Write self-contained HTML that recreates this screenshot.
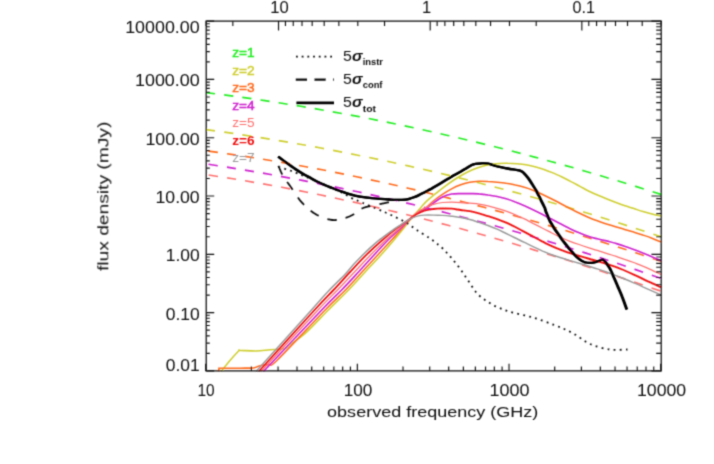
<!DOCTYPE html>
<html><head><meta charset="utf-8"><title>flux density</title>
<style>
html,body{margin:0;padding:0;background:#fff;}
body{width:714px;height:464px;overflow:hidden;position:relative;font-family:"Liberation Sans",sans-serif;}
svg{display:block;}
</style></head><body>
<svg width="714" height="464" viewBox="0 0 714 464" style="position:absolute;left:0;top:0">
<defs><filter id="bl" x="0" y="0" width="714" height="464" filterUnits="userSpaceOnUse"><feConvolveMatrix order="3" kernelMatrix="0.03 0.11 0.03 0.11 0.44 0.11 0.03 0.11 0.03" edgeMode="duplicate" preserveAlpha="false"/></filter><clipPath id="cp"><rect x="206.2" y="21.1" width="455" height="350.3"/></clipPath></defs>
<rect x="0" y="0" width="714" height="464" fill="#fff"/>
<g filter="url(#bl)">
<g clip-path="url(#cp)" fill="none" stroke-linecap="butt" stroke-linejoin="round">
<path d="M206.0,92.6C210.2,93.2 222.9,94.7 231.3,95.9C239.7,97.0 248.1,98.2 256.6,99.4C265.0,100.7 273.4,101.9 281.8,103.3C290.3,104.6 298.7,105.9 307.1,107.4C315.5,108.8 324.0,110.2 332.4,111.8C340.8,113.3 349.2,114.8 357.7,116.4C366.1,118.0 374.5,119.7 382.9,121.4C391.4,123.1 399.8,124.9 408.2,126.6C416.6,128.4 425.1,130.3 433.5,132.2C441.9,134.1 450.4,136.0 458.8,138.0C467.2,140.0 475.6,142.0 484.1,144.1C492.5,146.1 500.9,148.3 509.3,150.4C517.8,152.6 526.2,154.8 534.6,157.1C543.0,159.3 551.5,161.6 559.9,164.0C568.3,166.3 576.7,168.7 585.2,171.2C593.6,173.6 602.0,176.1 610.4,178.7C618.9,181.2 627.3,183.8 635.7,186.4C644.1,189.0 656.8,193.1 661.0,194.4" stroke="#22ee22" stroke-width="1.65" stroke-dasharray="9.2 9.12" stroke-dashoffset="0"/>
<path d="M206.0,129.6C210.2,130.2 222.9,131.9 231.3,133.1C239.7,134.4 248.1,135.7 256.6,137.0C265.0,138.3 273.4,139.7 281.8,141.1C290.3,142.5 298.7,144.0 307.1,145.5C315.5,147.0 324.0,148.6 332.4,150.2C340.8,151.8 349.2,153.5 357.7,155.2C366.1,156.9 374.5,158.6 382.9,160.4C391.4,162.2 399.8,164.0 408.2,165.9C416.6,167.8 425.1,169.7 433.5,171.7C441.9,173.7 450.4,175.7 458.8,177.8C467.2,179.9 475.6,182.0 484.1,184.2C492.5,186.4 500.9,188.6 509.3,190.8C517.8,193.1 526.2,195.4 534.6,197.8C543.0,200.1 551.5,202.6 559.9,205.0C568.3,207.5 576.7,210.0 585.2,212.5C593.6,215.1 602.0,217.7 610.4,220.3C618.9,223.0 627.3,225.7 635.7,228.4C644.1,231.2 656.8,235.4 661.0,236.8" stroke="#cfcf30" stroke-width="1.65" stroke-dasharray="9.2 9.2" stroke-dashoffset="0"/>
<path d="M206.0,150.8C210.2,151.4 222.9,153.1 231.3,154.4C239.7,155.6 248.1,156.9 256.6,158.2C265.0,159.6 273.4,161.0 281.8,162.4C290.3,163.9 298.7,165.4 307.1,167.0C315.5,168.5 324.0,170.1 332.4,171.8C340.8,173.5 349.2,175.2 357.7,177.0C366.1,178.8 374.5,180.6 382.9,182.5C391.4,184.3 399.8,186.3 408.2,188.2C416.6,190.2 425.1,192.2 433.5,194.3C441.9,196.4 450.4,198.5 458.8,200.7C467.2,202.9 475.6,205.1 484.1,207.3C492.5,209.6 500.9,211.9 509.3,214.3C517.8,216.6 526.2,219.0 534.6,221.5C543.0,223.9 551.5,226.4 559.9,228.9C568.3,231.4 576.7,234.0 585.2,236.6C593.6,239.2 602.0,241.9 610.4,244.6C618.9,247.2 627.3,250.0 635.7,252.7C644.1,255.5 656.8,259.8 661.0,261.2" stroke="#ff6a1e" stroke-width="1.65" stroke-dasharray="9.15 9.14" stroke-dashoffset="-2.8"/>
<path d="M206.0,163.9C210.2,164.6 222.9,166.5 231.3,167.9C239.7,169.2 248.1,170.6 256.6,172.1C265.0,173.5 273.4,175.0 281.8,176.6C290.3,178.1 298.7,179.7 307.1,181.4C315.5,183.0 324.0,184.7 332.4,186.4C340.8,188.2 349.2,190.0 357.7,191.8C366.1,193.6 374.5,195.5 382.9,197.4C391.4,199.4 399.8,201.3 408.2,203.4C416.6,205.4 425.1,207.5 433.5,209.6C441.9,211.7 450.4,213.9 458.8,216.1C467.2,218.3 475.6,220.6 484.1,222.9C492.5,225.2 500.9,227.5 509.3,229.9C517.8,232.3 526.2,234.8 534.6,237.3C543.0,239.8 551.5,242.4 559.9,245.0C568.3,247.5 576.7,250.2 585.2,252.9C593.6,255.6 602.0,258.3 610.4,261.1C618.9,263.9 627.3,266.7 635.7,269.6C644.1,272.5 656.8,277.0 661.0,278.4" stroke="#cf22cf" stroke-width="1.65" stroke-dasharray="9.15 9.14" stroke-dashoffset="-2.8"/>
<path d="M206.0,174.6C210.2,175.3 222.9,177.2 231.3,178.5C239.7,179.9 248.1,181.3 256.6,182.8C265.0,184.2 273.4,185.8 281.8,187.3C290.3,188.9 298.7,190.6 307.1,192.2C315.5,193.9 324.0,195.7 332.4,197.5C340.8,199.3 349.2,201.1 357.7,203.0C366.1,204.9 374.5,206.9 382.9,208.9C391.4,210.9 399.8,212.9 408.2,215.0C416.6,217.1 425.1,219.3 433.5,221.5C441.9,223.7 450.4,225.9 458.8,228.2C467.2,230.5 475.6,232.8 484.1,235.2C492.5,237.6 500.9,240.0 509.3,242.5C517.8,245.0 526.2,247.5 534.6,250.1C543.0,252.6 551.5,255.2 559.9,257.9C568.3,260.5 576.7,263.2 585.2,265.9C593.6,268.6 602.0,271.4 610.4,274.2C618.9,276.9 627.3,279.7 635.7,282.6C644.1,285.4 656.8,289.7 661.0,291.1" stroke="#ff7070" stroke-width="1.65" stroke-dasharray="9.15 9.14" stroke-dashoffset="-3.0"/>
<path d="M221.0,371.5C222.5,369.7 227.1,363.9 230.0,360.5C232.9,357.1 236.9,352.7 238.6,351.0C240.3,349.3 237.3,350.4 240.2,350.4C243.1,350.4 251.0,351.1 256.0,351.0C261.0,350.9 265.3,350.2 270.0,349.8C274.7,349.4 280.7,349.7 284.0,348.8C287.3,347.9 286.5,347.1 290.0,344.5C293.5,341.9 298.8,339.1 305.2,333.4C311.6,327.6 321.1,317.2 328.3,310.0C335.5,302.8 342.4,296.3 348.5,290.0C354.6,283.7 359.9,277.7 365.1,272.0C370.4,266.3 375.2,261.3 380.0,256.0C384.8,250.7 390.2,244.5 394.0,240.0C397.8,235.5 400.3,232.4 403.0,229.0C405.7,225.6 407.4,223.2 410.2,219.8C413.0,216.4 417.2,211.7 420.0,208.5C422.8,205.4 424.2,203.4 426.9,200.9C429.6,198.4 432.9,195.8 435.9,193.3C438.9,190.9 441.9,188.6 444.9,186.3C447.9,184.1 450.9,182.0 453.9,180.0C456.9,178.0 459.9,176.2 462.9,174.5C465.9,172.8 468.9,171.3 471.9,170.0C474.9,168.7 477.9,167.6 480.9,166.7C483.9,165.8 486.9,165.1 489.9,164.6C492.9,164.0 495.9,163.7 498.9,163.5C501.9,163.3 504.9,163.2 507.9,163.3C510.9,163.3 513.9,163.5 516.9,163.7C519.9,164.0 522.9,164.3 525.9,164.8C528.9,165.3 531.9,166.0 534.9,166.7C537.9,167.5 540.9,168.4 544.0,169.4C547.0,170.5 550.0,171.7 553.0,172.9C556.0,174.2 559.0,175.6 562.0,177.0C565.0,178.5 568.0,180.0 571.0,181.6C574.0,183.1 577.0,184.8 580.0,186.4C583.0,188.0 586.0,189.7 589.0,191.2C592.0,192.7 595.0,194.0 598.0,195.3C601.0,196.6 604.0,197.8 607.0,199.0C610.0,200.2 613.0,201.4 616.0,202.5C619.0,203.6 622.0,204.7 625.0,205.7C628.0,206.7 631.0,207.6 634.0,208.6C637.0,209.6 640.0,210.7 643.0,211.6C646.0,212.5 649.0,213.4 652.0,214.1C655.0,214.9 659.5,215.8 661.0,216.1" stroke="#cfcf30" stroke-width="1.55"/>
<path d="M218.0,371.5C218.2,371.0 218.9,369.2 219.3,368.6C219.7,368.1 217.1,368.3 220.5,368.2C223.9,368.1 234.5,368.2 240.0,368.2C245.5,368.1 250.4,368.2 253.5,367.9C256.6,367.6 256.7,366.7 258.5,366.2C260.3,365.7 262.7,365.1 264.5,364.8C266.3,364.5 267.3,365.4 269.5,364.5C271.7,363.6 268.3,368.8 277.6,359.7C286.9,350.6 313.9,321.6 325.2,310.0C336.5,298.4 339.4,296.3 345.5,290.0C351.6,283.7 356.7,277.8 362.0,272.0C367.3,266.2 372.4,260.7 377.5,255.2C382.6,249.7 388.4,243.3 392.5,238.9C396.6,234.5 399.1,231.9 402.0,228.6C404.9,225.3 407.4,221.9 410.2,219.1C413.0,216.2 416.6,213.2 419.0,211.5C421.4,209.8 421.9,210.8 424.3,209.1C426.7,207.4 430.4,203.5 433.4,201.0C436.4,198.6 439.5,196.4 442.5,194.4C445.5,192.4 448.6,190.5 451.6,188.9C454.6,187.3 457.7,185.9 460.7,184.8C463.8,183.7 466.8,182.8 469.8,182.2C472.9,181.6 475.9,181.4 478.9,181.2C482.0,181.1 485.0,181.3 488.0,181.5C491.1,181.6 494.1,181.9 497.1,182.2C500.2,182.5 503.2,182.8 506.2,183.3C509.3,183.7 512.3,184.2 515.3,184.9C518.4,185.5 521.4,186.3 524.4,187.3C527.5,188.2 530.5,189.3 533.5,190.5C536.6,191.7 539.6,193.1 542.6,194.5C545.7,196.0 548.7,197.5 551.8,199.0C554.8,200.5 557.8,202.1 560.9,203.7C563.9,205.3 566.9,206.9 570.0,208.5C573.0,210.0 576.0,211.6 579.1,213.0C582.1,214.5 585.1,215.9 588.2,217.2C591.2,218.5 594.2,219.7 597.3,220.8C600.3,222.0 603.3,223.0 606.4,224.0C609.4,224.9 612.4,225.8 615.5,226.8C618.5,227.7 621.6,228.5 624.6,229.4C627.6,230.3 630.7,231.2 633.7,232.1C636.7,233.0 639.8,233.9 642.8,235.0C645.8,236.0 648.9,237.0 651.9,238.2C654.9,239.4 659.5,241.4 661.0,242.0" stroke="#ff6a1e" stroke-width="1.55"/>
<path d="M263.4,371.5C273.1,361.2 308.7,323.6 321.7,310.0C334.7,296.4 335.5,296.3 341.6,290.0C347.7,283.7 353.1,277.8 358.5,272.0C363.9,266.2 368.8,260.7 374.0,255.0C379.2,249.3 385.4,242.6 390.0,238.0C394.6,233.4 398.1,230.7 401.5,227.5C404.9,224.3 407.3,221.4 410.2,218.8C413.1,216.2 416.6,213.6 419.0,212.1C421.4,210.7 421.9,211.5 424.3,210.0C426.7,208.4 430.4,205.2 433.4,203.1C436.4,200.9 439.5,198.4 442.5,196.9C445.5,195.4 448.6,194.6 451.6,194.0C454.6,193.5 457.7,193.6 460.7,193.5C463.8,193.5 466.8,193.6 469.8,193.6C472.9,193.7 475.9,193.6 478.9,193.9C482.0,194.1 485.0,194.5 488.0,195.0C491.1,195.4 494.1,195.9 497.1,196.5C500.2,197.2 503.2,197.9 506.2,198.8C509.3,199.7 512.3,200.8 515.3,202.0C518.4,203.1 521.4,204.4 524.4,205.7C527.5,207.0 530.5,208.5 533.5,209.9C536.6,211.4 539.6,212.9 542.6,214.5C545.7,216.1 548.7,217.7 551.8,219.3C554.8,220.9 557.8,222.5 560.9,224.1C563.9,225.7 566.9,227.3 570.0,228.7C573.0,230.2 576.0,231.6 579.1,232.8C582.1,234.1 585.1,235.3 588.2,236.3C591.2,237.3 594.2,238.0 597.3,238.8C600.3,239.6 603.3,240.2 606.4,240.9C609.4,241.7 612.4,242.4 615.5,243.3C618.5,244.2 621.6,245.1 624.6,246.2C627.6,247.2 630.7,248.3 633.7,249.4C636.7,250.5 639.8,251.7 642.8,253.0C645.8,254.2 648.9,255.5 651.9,256.8C654.9,258.1 659.5,260.1 661.0,260.7" stroke="#cf22cf" stroke-width="1.65"/>
<path d="M261.0,371.5C270.5,361.2 305.2,323.6 318.0,310.0C330.8,296.4 331.4,296.3 337.5,290.0C343.6,283.7 349.0,277.8 354.5,272.0C360.0,266.2 365.2,260.4 370.5,255.0C375.8,249.6 381.8,243.9 386.5,239.5C391.2,235.1 395.1,232.2 399.0,228.8C402.9,225.4 407.0,221.7 410.2,218.8C413.4,215.9 415.6,213.4 418.0,211.7C420.4,209.9 421.7,209.4 424.3,208.1C426.9,206.9 430.4,205.3 433.4,204.4C436.4,203.5 439.5,202.9 442.5,202.5C445.5,202.2 448.6,202.2 451.6,202.2C454.6,202.2 457.7,202.4 460.7,202.6C463.8,202.8 466.8,202.9 469.8,203.2C472.9,203.5 475.9,203.7 478.9,204.1C482.0,204.6 485.0,205.2 488.0,205.9C491.1,206.6 494.1,207.5 497.1,208.3C500.2,209.2 503.2,210.1 506.2,211.2C509.3,212.2 512.3,213.5 515.3,214.8C518.4,216.1 521.4,217.5 524.4,218.9C527.5,220.4 530.5,222.0 533.5,223.6C536.6,225.1 539.6,226.6 542.6,228.2C545.7,229.7 548.7,231.4 551.8,233.0C554.8,234.5 557.8,236.1 560.9,237.5C563.9,238.9 566.9,240.1 570.0,241.3C573.0,242.5 576.0,243.5 579.1,244.5C582.1,245.6 585.1,246.6 588.2,247.6C591.2,248.5 594.2,249.5 597.3,250.4C600.3,251.4 603.3,252.3 606.4,253.3C609.4,254.3 612.4,255.2 615.5,256.2C618.5,257.2 621.6,258.2 624.6,259.3C627.6,260.3 630.7,261.4 633.7,262.5C636.7,263.7 639.8,264.8 642.8,266.1C645.8,267.3 648.9,268.7 651.9,270.1C654.9,271.5 659.5,273.8 661.0,274.5" stroke="#ff7070" stroke-width="1.25"/>
<path d="M258.6,371.5C267.9,361.2 302.0,323.6 314.5,310.0C327.0,296.4 327.6,296.3 333.5,290.0C339.4,283.7 344.4,278.0 350.0,272.0C355.6,266.0 361.5,259.6 367.0,254.2C372.5,248.7 378.0,243.8 383.0,239.5C388.0,235.2 392.5,231.5 397.0,228.1C401.5,224.7 406.9,221.1 410.2,218.8C413.5,216.5 414.6,215.4 417.0,214.0C419.4,212.7 421.6,211.5 424.3,210.6C427.0,209.8 430.4,209.4 433.4,209.0C436.4,208.6 439.5,208.4 442.5,208.3C445.5,208.3 448.6,208.4 451.6,208.7C454.6,209.0 457.7,209.6 460.7,210.0C463.8,210.4 466.8,210.7 469.8,211.2C472.9,211.8 475.9,212.5 478.9,213.3C482.0,214.1 485.0,215.2 488.0,216.1C491.1,217.1 494.1,218.0 497.1,219.1C500.2,220.2 503.2,221.4 506.2,222.7C509.3,224.0 512.3,225.5 515.3,227.0C518.4,228.6 521.4,230.3 524.4,231.9C527.5,233.5 530.5,235.2 533.5,236.8C536.6,238.4 539.6,240.1 542.6,241.7C545.7,243.2 548.7,244.8 551.8,246.1C554.8,247.5 557.8,248.7 560.9,249.9C563.9,251.0 566.9,252.1 570.0,253.1C573.0,254.1 576.0,255.0 579.1,255.9C582.1,256.8 585.1,257.7 588.2,258.5C591.2,259.4 594.2,260.2 597.3,261.1C600.3,262.0 603.3,262.8 606.4,263.8C609.4,264.7 612.4,265.8 615.5,266.9C618.5,268.0 621.6,269.3 624.6,270.5C627.6,271.8 630.7,273.2 633.7,274.6C636.7,276.0 639.8,277.4 642.8,278.8C645.8,280.3 648.9,281.7 651.9,283.1C654.9,284.5 659.5,286.5 661.0,287.2" stroke="#f01010" stroke-width="1.85"/>
<path d="M256.0,371.5C265.2,361.2 299.4,323.4 311.5,310.0C323.6,296.6 322.9,296.9 328.5,291.0C334.1,285.1 340.7,278.9 344.9,274.5C349.1,270.1 350.6,267.7 353.5,264.6C356.4,261.5 359.1,258.7 362.0,255.8C364.9,252.9 368.0,249.8 371.0,247.1C374.0,244.4 376.6,242.1 380.0,239.4C383.4,236.7 388.4,233.2 391.7,230.8C395.0,228.4 396.9,227.3 400.0,225.3C403.1,223.3 407.1,220.4 410.2,218.8C413.2,217.2 415.9,216.5 418.3,215.9C420.7,215.3 421.8,215.2 424.3,215.1C426.8,215.0 430.4,215.0 433.4,215.1C436.4,215.2 439.5,215.3 442.5,215.4C445.5,215.6 448.6,215.9 451.6,216.2C454.6,216.6 457.7,217.0 460.7,217.5C463.8,218.1 466.8,218.7 469.8,219.5C472.9,220.3 475.9,221.4 478.9,222.4C482.0,223.4 485.0,224.4 488.0,225.5C491.1,226.7 494.1,227.9 497.1,229.2C500.2,230.6 503.2,232.1 506.2,233.5C509.3,235.0 512.3,236.5 515.3,238.0C518.4,239.5 521.4,241.0 524.4,242.4C527.5,243.9 530.5,245.4 533.5,246.8C536.6,248.2 539.6,249.7 542.6,251.1C545.7,252.4 548.7,253.7 551.8,254.8C554.8,255.9 557.8,256.8 560.9,257.8C563.9,258.8 566.9,259.7 570.0,260.6C573.0,261.5 576.0,262.4 579.1,263.3C582.1,264.2 585.1,265.1 588.2,266.0C591.2,267.0 594.2,267.9 597.3,268.9C600.3,269.9 603.3,270.9 606.4,272.0C609.4,273.1 612.4,274.2 615.5,275.4C618.5,276.6 621.6,277.8 624.6,279.0C627.6,280.2 630.7,281.5 633.7,282.8C636.7,284.1 639.8,285.4 642.8,286.8C645.8,288.1 648.9,289.5 651.9,290.9C654.9,292.2 659.5,294.3 661.0,295.0" stroke="#9a9a9a" stroke-width="1.45"/>
<path d="M278.4,167.0C280.3,167.6 285.9,169.0 289.6,170.3C293.3,171.6 295.7,172.6 300.8,174.7C305.9,176.8 313.5,180.0 320.0,182.8C326.5,185.6 334.8,189.0 340.0,191.5C345.2,194.0 347.5,195.9 351.2,197.8C354.9,199.7 356.8,200.4 362.4,202.8C368.0,205.2 377.7,209.0 384.8,212.2C391.9,215.4 399.8,219.1 405.0,222.0C410.2,224.9 412.1,226.9 416.2,229.6C420.3,232.3 425.9,235.7 429.6,238.2C433.3,240.7 436.1,243.0 438.3,244.7C440.5,246.4 441.4,247.2 442.9,248.6C444.4,250.0 445.8,251.7 447.2,253.3C448.6,254.9 450.2,256.5 451.6,258.1C453.0,259.7 454.1,261.1 455.5,262.8C456.9,264.5 458.4,266.5 459.7,268.3C461.0,270.1 462.1,271.6 463.3,273.4C464.5,275.2 465.9,277.2 467.1,279.0C468.3,280.8 469.5,282.5 470.7,284.3C471.9,286.1 472.8,288.0 474.1,289.7C475.4,291.4 476.8,293.2 478.3,294.7C479.8,296.2 481.4,297.4 483.1,298.6C484.8,299.8 486.6,301.0 488.3,302.1C490.0,303.2 491.5,304.3 493.4,305.3C495.3,306.3 497.0,307.0 499.8,308.1C502.6,309.2 504.6,310.2 510.0,311.8C515.4,313.4 524.9,315.2 532.4,317.4C539.9,319.6 548.1,322.6 554.8,325.2C561.5,327.8 566.8,330.0 572.7,333.1C578.6,336.2 583.8,341.3 590.0,344.0C596.2,346.7 603.8,348.6 610.0,349.5C616.2,350.4 624.6,349.5 627.5,349.5" stroke="#111" stroke-width="1.8" stroke-dasharray="1.8 4.3"/>
<path d="M278.4,165.8C279.2,167.5 280.9,172.4 283.0,175.9C285.1,179.4 287.6,182.5 290.8,187.0C294.0,191.5 297.9,198.2 302.0,202.7C306.1,207.2 310.4,211.1 315.4,214.0C320.4,216.9 327.1,219.4 332.2,220.0C337.2,220.6 342.2,218.7 345.7,217.8C349.2,216.9 350.6,216.1 353.4,214.5C356.2,212.9 359.0,209.8 362.4,208.3C365.8,206.8 369.3,206.4 373.6,205.4C377.9,204.4 383.8,203.2 388.2,202.3C392.6,201.4 398.0,200.4 400.0,200.0" stroke="#111" stroke-width="1.8" stroke-dasharray="9.6 9"/>
<path d="M278.3,156.7C279.2,157.4 281.7,159.4 283.8,160.9C285.9,162.4 288.4,164.1 290.7,165.7C293.0,167.3 295.3,169.0 297.6,170.5C299.9,172.0 302.2,173.4 304.5,174.7C306.8,176.0 309.1,177.2 311.4,178.5C313.7,179.8 316.0,181.1 318.3,182.2C320.6,183.3 322.9,184.3 325.2,185.3C327.5,186.3 329.8,187.1 332.1,188.0C334.4,188.9 336.6,189.6 339.0,190.5C341.4,191.4 344.1,192.5 346.8,193.3C349.5,194.2 352.2,194.9 355.0,195.6C357.8,196.2 360.8,196.8 363.6,197.2C366.4,197.6 369.2,197.9 372.0,198.2C374.8,198.5 377.6,198.7 380.4,198.9C383.2,199.1 386.2,199.3 389.0,199.5C391.8,199.7 394.4,199.9 397.2,199.9C400.0,199.9 403.5,199.8 405.6,199.6C407.7,199.4 408.6,199.0 410.0,198.6C411.4,198.2 412.5,197.9 414.0,197.3C415.5,196.7 417.3,195.9 419.0,195.1C420.7,194.2 422.4,193.3 424.1,192.5C425.8,191.6 427.4,190.8 429.0,189.9C430.6,189.1 431.9,188.3 433.8,187.2C435.8,186.1 438.4,184.6 440.7,183.2C443.0,181.8 445.3,180.4 447.6,179.1C449.9,177.7 452.2,176.5 454.5,175.1C456.8,173.8 459.5,172.3 461.4,171.2C463.3,170.1 464.4,169.3 466.0,168.4C467.6,167.4 469.5,166.2 471.0,165.4C472.5,164.7 473.3,164.2 475.2,163.9C477.1,163.5 479.9,163.3 482.1,163.3C484.3,163.3 485.9,163.2 488.3,163.7C490.7,164.2 493.4,165.3 496.6,166.1C499.8,166.9 503.7,167.7 507.6,168.5C511.5,169.3 517.2,169.9 520.0,170.7C522.8,171.5 522.7,172.1 524.1,173.4C525.5,174.7 526.9,176.5 528.3,178.3C529.7,180.2 531.0,182.3 532.4,184.5C533.8,186.7 535.2,188.9 536.6,191.4C538.0,193.9 539.3,196.9 540.7,199.7C542.1,202.4 543.9,205.9 544.8,207.9C545.7,209.9 545.1,209.6 546.0,211.9C546.9,214.2 548.6,218.5 550.2,221.6C551.8,224.7 553.6,227.4 555.7,230.5C557.8,233.6 560.3,237.1 562.6,240.2C564.9,243.3 567.2,246.3 569.5,249.1C571.8,251.8 574.3,254.7 576.4,256.7C578.5,258.7 580.1,259.9 581.9,260.9C583.7,261.9 585.3,262.6 587.4,262.8C589.5,263.1 592.2,262.8 594.3,262.4C596.4,262.0 598.4,261.0 599.8,260.5C601.2,260.0 601.8,259.4 602.8,259.6C603.8,259.9 604.4,260.6 605.5,262.0C606.6,263.4 608.2,265.4 609.6,268.0C611.0,270.6 612.6,274.4 614.0,277.6C615.4,280.8 616.7,284.0 618.1,287.2C619.5,290.4 620.8,293.2 622.2,296.9C623.7,300.6 626.0,307.4 626.8,309.5" stroke="#000" stroke-width="2.3" transform="translate(-0.35,0)"/>
<path d="M278.3,156.7C279.2,157.4 281.7,159.4 283.8,160.9C285.9,162.4 288.4,164.1 290.7,165.7C293.0,167.3 295.3,169.0 297.6,170.5C299.9,172.0 302.2,173.4 304.5,174.7C306.8,176.0 309.1,177.2 311.4,178.5C313.7,179.8 316.0,181.1 318.3,182.2C320.6,183.3 322.9,184.3 325.2,185.3C327.5,186.3 329.8,187.1 332.1,188.0C334.4,188.9 336.6,189.6 339.0,190.5C341.4,191.4 344.1,192.5 346.8,193.3C349.5,194.2 352.2,194.9 355.0,195.6C357.8,196.2 360.8,196.8 363.6,197.2C366.4,197.6 369.2,197.9 372.0,198.2C374.8,198.5 377.6,198.7 380.4,198.9C383.2,199.1 386.2,199.3 389.0,199.5C391.8,199.7 394.4,199.9 397.2,199.9C400.0,199.9 403.5,199.8 405.6,199.6C407.7,199.4 408.6,199.0 410.0,198.6C411.4,198.2 412.5,197.9 414.0,197.3C415.5,196.7 417.3,195.9 419.0,195.1C420.7,194.2 422.4,193.3 424.1,192.5C425.8,191.6 427.4,190.8 429.0,189.9C430.6,189.1 431.9,188.3 433.8,187.2C435.8,186.1 438.4,184.6 440.7,183.2C443.0,181.8 445.3,180.4 447.6,179.1C449.9,177.7 452.2,176.5 454.5,175.1C456.8,173.8 459.5,172.3 461.4,171.2C463.3,170.1 464.4,169.3 466.0,168.4C467.6,167.4 469.5,166.2 471.0,165.4C472.5,164.7 473.3,164.2 475.2,163.9C477.1,163.5 479.9,163.3 482.1,163.3C484.3,163.3 485.9,163.2 488.3,163.7C490.7,164.2 493.4,165.3 496.6,166.1C499.8,166.9 503.7,167.7 507.6,168.5C511.5,169.3 517.2,169.9 520.0,170.7C522.8,171.5 522.7,172.1 524.1,173.4C525.5,174.7 526.9,176.5 528.3,178.3C529.7,180.2 531.0,182.3 532.4,184.5C533.8,186.7 535.2,188.9 536.6,191.4C538.0,193.9 539.3,196.9 540.7,199.7C542.1,202.4 543.9,205.9 544.8,207.9C545.7,209.9 545.1,209.6 546.0,211.9C546.9,214.2 548.6,218.5 550.2,221.6C551.8,224.7 553.6,227.4 555.7,230.5C557.8,233.6 560.3,237.1 562.6,240.2C564.9,243.3 567.2,246.3 569.5,249.1C571.8,251.8 574.3,254.7 576.4,256.7C578.5,258.7 580.1,259.9 581.9,260.9C583.7,261.9 585.3,262.6 587.4,262.8C589.5,263.1 592.2,262.8 594.3,262.4C596.4,262.0 598.4,261.0 599.8,260.5C601.2,260.0 601.8,259.4 602.8,259.6C603.8,259.9 604.4,260.6 605.5,262.0C606.6,263.4 608.2,265.4 609.6,268.0C611.0,270.6 612.6,274.4 614.0,277.6C615.4,280.8 616.7,284.0 618.1,287.2C619.5,290.4 620.8,293.2 622.2,296.9C623.7,300.6 626.0,307.4 626.8,309.5" stroke="#000" stroke-width="2.3" transform="translate(0.35,0)"/>
</g>
<rect x="206.2" y="21.1" width="455.00000000000006" height="349.79999999999995" fill="none" stroke="#151515" stroke-width="1.3"/>
<path d="M205.70,370.9v-7.2M251.36,370.9v-4.3M278.06,370.9v-4.3M297.01,370.9v-4.3M311.71,370.9v-4.3M323.72,370.9v-4.3M333.87,370.9v-4.3M342.67,370.9v-4.3M350.43,370.9v-4.3M357.37,370.9v-7.2M403.02,370.9v-4.3M429.73,370.9v-4.3M448.68,370.9v-4.3M463.38,370.9v-4.3M475.39,370.9v-4.3M485.54,370.9v-4.3M494.34,370.9v-4.3M502.09,370.9v-4.3M509.03,370.9v-7.2M554.69,370.9v-4.3M581.40,370.9v-4.3M600.35,370.9v-4.3M615.04,370.9v-4.3M627.05,370.9v-4.3M637.21,370.9v-4.3M646.00,370.9v-4.3M653.76,370.9v-4.3M660.70,370.9v-7.2M661.15,21.1v5.0M642.20,21.1v5.0M627.51,21.1v5.0M615.50,21.1v5.0M605.34,21.1v5.0M596.55,21.1v5.0M588.79,21.1v5.0M581.85,21.1v9.5M536.19,21.1v5.0M509.49,21.1v5.0M490.54,21.1v5.0M475.84,21.1v5.0M463.83,21.1v5.0M453.68,21.1v5.0M444.88,21.1v5.0M437.12,21.1v5.0M430.18,21.1v9.5M384.53,21.1v5.0M357.82,21.1v5.0M338.87,21.1v5.0M324.17,21.1v5.0M312.16,21.1v5.0M302.01,21.1v5.0M293.22,21.1v5.0M285.46,21.1v5.0M278.52,21.1v9.5M232.86,21.1v5.0M206.15,21.1v5.0M206.2,370.90h8.0M661.2,370.90h-9.8M206.2,353.35h3.6M661.2,353.35h-5.0M206.2,343.08h3.6M661.2,343.08h-5.0M206.2,335.80h3.6M661.2,335.80h-5.0M206.2,330.15h3.6M661.2,330.15h-5.0M206.2,325.53h3.6M661.2,325.53h-5.0M206.2,321.63h3.6M661.2,321.63h-5.0M206.2,318.25h3.6M661.2,318.25h-5.0M206.2,315.27h3.6M661.2,315.27h-5.0M206.2,312.60h8.0M661.2,312.60h-9.8M206.2,295.05h3.6M661.2,295.05h-5.0M206.2,284.78h3.6M661.2,284.78h-5.0M206.2,277.50h3.6M661.2,277.50h-5.0M206.2,271.85h3.6M661.2,271.85h-5.0M206.2,267.23h3.6M661.2,267.23h-5.0M206.2,263.33h3.6M661.2,263.33h-5.0M206.2,259.95h3.6M661.2,259.95h-5.0M206.2,256.97h3.6M661.2,256.97h-5.0M206.2,254.30h8.0M661.2,254.30h-9.8M206.2,236.75h3.6M661.2,236.75h-5.0M206.2,226.48h3.6M661.2,226.48h-5.0M206.2,219.20h3.6M661.2,219.20h-5.0M206.2,213.55h3.6M661.2,213.55h-5.0M206.2,208.93h3.6M661.2,208.93h-5.0M206.2,205.03h3.6M661.2,205.03h-5.0M206.2,201.65h3.6M661.2,201.65h-5.0M206.2,198.67h3.6M661.2,198.67h-5.0M206.2,196.00h8.0M661.2,196.00h-9.8M206.2,178.45h3.6M661.2,178.45h-5.0M206.2,168.18h3.6M661.2,168.18h-5.0M206.2,160.90h3.6M661.2,160.90h-5.0M206.2,155.25h3.6M661.2,155.25h-5.0M206.2,150.63h3.6M661.2,150.63h-5.0M206.2,146.73h3.6M661.2,146.73h-5.0M206.2,143.35h3.6M661.2,143.35h-5.0M206.2,140.37h3.6M661.2,140.37h-5.0M206.2,137.70h8.0M661.2,137.70h-9.8M206.2,120.15h3.6M661.2,120.15h-5.0M206.2,109.88h3.6M661.2,109.88h-5.0M206.2,102.60h3.6M661.2,102.60h-5.0M206.2,96.95h3.6M661.2,96.95h-5.0M206.2,92.33h3.6M661.2,92.33h-5.0M206.2,88.43h3.6M661.2,88.43h-5.0M206.2,85.05h3.6M661.2,85.05h-5.0M206.2,82.07h3.6M661.2,82.07h-5.0M206.2,79.40h8.0M661.2,79.40h-9.8M206.2,61.85h3.6M661.2,61.85h-5.0M206.2,51.58h3.6M661.2,51.58h-5.0M206.2,44.30h3.6M661.2,44.30h-5.0M206.2,38.65h3.6M661.2,38.65h-5.0M206.2,34.03h3.6M661.2,34.03h-5.0M206.2,30.13h3.6M661.2,30.13h-5.0M206.2,26.75h3.6M661.2,26.75h-5.0M206.2,23.77h3.6M661.2,23.77h-5.0M206.2,21.10h8.0M661.2,21.10h-9.8" stroke="#151515" stroke-width="1.15" fill="none"/>
<g font-family="Liberation Sans, sans-serif" fill="#0c0c0c" stroke="none">
<text x="125.19999999999999" y="33.0" font-size="16.5" text-anchor="start" textLength="74.5" lengthAdjust="spacingAndGlyphs" >10000.00</text>
<text x="135.0" y="86.0" font-size="16.5" text-anchor="start" textLength="64.7" lengthAdjust="spacingAndGlyphs" >1000.00</text>
<text x="145.39999999999998" y="144.9" font-size="16.5" text-anchor="start" textLength="54.3" lengthAdjust="spacingAndGlyphs" >100.00</text>
<text x="155.5" y="203.0" font-size="16.5" text-anchor="start" textLength="44.2" lengthAdjust="spacingAndGlyphs" >10.00</text>
<text x="165.7" y="261.3" font-size="16.5" text-anchor="start" textLength="34.0" lengthAdjust="spacingAndGlyphs" >1.00</text>
<text x="165.7" y="319.7" font-size="16.5" text-anchor="start" textLength="34.0" lengthAdjust="spacingAndGlyphs" >0.10</text>
<text x="165.7" y="371.0" font-size="16.5" text-anchor="start" textLength="34.0" lengthAdjust="spacingAndGlyphs" >0.01</text>
<text x="197.4" y="396.2" font-size="16.5" text-anchor="start" textLength="17.2" lengthAdjust="spacingAndGlyphs" >10</text>
<text x="343.7" y="396.2" font-size="16.5" text-anchor="start" textLength="28.6" lengthAdjust="spacingAndGlyphs" >100</text>
<text x="489.5" y="396.2" font-size="16.5" text-anchor="start" textLength="40" lengthAdjust="spacingAndGlyphs" >1000</text>
<text x="637.0" y="396.2" font-size="16.5" text-anchor="start" textLength="49.2" lengthAdjust="spacingAndGlyphs" >10000</text>
<text x="270.2" y="13.2" font-size="16.5" text-anchor="start" textLength="18.5" lengthAdjust="spacingAndGlyphs" >10</text>
<text x="422.0" y="13.2" font-size="16.5" text-anchor="start" >1</text>
<text x="572.5" y="13.2" font-size="16.5" text-anchor="start" textLength="22.4" lengthAdjust="spacingAndGlyphs" >0.1</text>
<text x="327.1" y="416.6" font-size="15.5" text-anchor="start" textLength="211.2" lengthAdjust="spacingAndGlyphs" >observed frequency (GHz)</text>
<text transform="translate(108.3,270.9) rotate(-90)" font-size="15.5" textLength="149.3" lengthAdjust="spacingAndGlyphs">flux density (mJy)</text>
</g>
<g font-family="Liberation Sans, sans-serif" font-size="12.5">
<text x="232.2" y="57.300000000000004" fill="#22ee22" textLength="22.4" lengthAdjust="spacingAndGlyphs" stroke="#22ee22" stroke-width="0.45">z=1</text>
<text x="232.2" y="74.7" fill="#cfcf30" textLength="22.4" lengthAdjust="spacingAndGlyphs" stroke="#cfcf30" stroke-width="0.45">z=2</text>
<text x="232.2" y="92.3" fill="#ff6a1e" textLength="22.4" lengthAdjust="spacingAndGlyphs" stroke="#ff6a1e" stroke-width="0.45">z=3</text>
<text x="232.2" y="109.7" fill="#cf22cf" textLength="22.4" lengthAdjust="spacingAndGlyphs" stroke="#cf22cf" stroke-width="0.45">z=4</text>
<text x="232.2" y="127.2" fill="#ff7070" textLength="22.4" lengthAdjust="spacingAndGlyphs">z=5</text>
<text x="232.2" y="144.7" fill="#f01010" textLength="22.4" lengthAdjust="spacingAndGlyphs" font-weight="bold">z=6</text>
<text x="232.2" y="162.2" fill="#9a9a9a" textLength="22.4" lengthAdjust="spacingAndGlyphs">z=7</text>
</g>
<g fill="none">
<path d="M296,56.7H332" stroke="#111" stroke-width="1.8" stroke-dasharray="1.8 3.9"/>
<path d="M295.8,79.6H334" stroke="#111" stroke-width="2.2" stroke-dasharray="11.2 7.5"/>
<path d="M296.4,102.8H334" stroke="#000" stroke-width="2.8"/>
</g>
<g font-family="Liberation Sans, sans-serif" fill="#111">
<text x="343.1" y="60.6" font-size="14.8" textLength="19.4" lengthAdjust="spacingAndGlyphs">5<tspan font-weight="bold" font-style="italic">σ</tspan></text>
<text x="362.7" y="64.7" font-size="8.8" font-weight="bold" textLength="20.3" lengthAdjust="spacingAndGlyphs">instr</text>
<text x="343.1" y="83.8" font-size="14.8" textLength="19.4" lengthAdjust="spacingAndGlyphs">5<tspan font-weight="bold" font-style="italic">σ</tspan></text>
<text x="362.7" y="87.89999999999999" font-size="8.8" font-weight="bold" textLength="19.8" lengthAdjust="spacingAndGlyphs">conf</text>
<text x="343.1" y="107.4" font-size="14.8" textLength="19.4" lengthAdjust="spacingAndGlyphs">5<tspan font-weight="bold" font-style="italic">σ</tspan></text>
<text x="362.7" y="111.5" font-size="8.8" font-weight="bold" textLength="13.4" lengthAdjust="spacingAndGlyphs">tot</text>
</g>
</g></svg>
</body></html>
